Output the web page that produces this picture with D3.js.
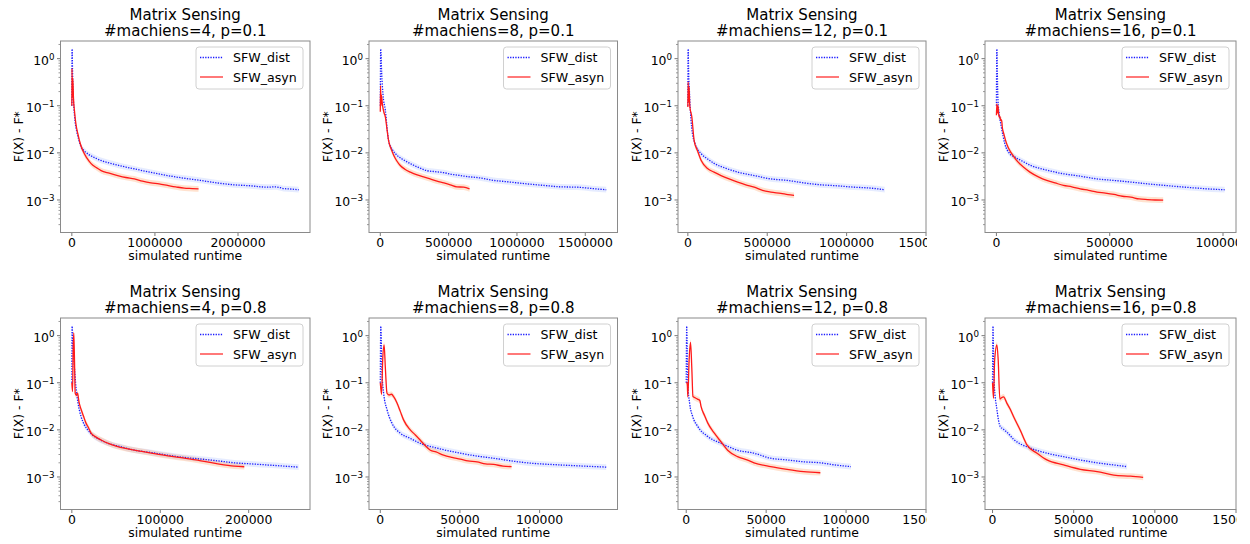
<!DOCTYPE html>
<html><head><meta charset="utf-8">
<script src="https://cdn.jsdelivr.net/npm/d3@7"></script>
<style>
body{margin:0;background:#fff}
svg{display:block}
text{font-family:"DejaVu Sans",sans-serif;fill:#000}
</style>
</head><body>
<svg id="c" width="1250" height="544"></svg>
<script>
// ---------------- data (x: simulated runtime, y: F(X) - F*) ----------------
const dist_4_01 = [[0,0.1],[3000,1.6],[8000,0.6],[15000,0.2],[25000,0.09],[40000,0.045],[60000,0.028],[80000,0.02],[110000,0.0135],[150000,0.011],[200000,0.0093],[275000,0.0079],[350000,0.0069],[450000,0.0061],[550000,0.0055],[650000,0.005],[750000,0.0046],[875000,0.0041],[1000000,0.0037],[1150000,0.0033],[1350000,0.0029],[1550000,0.0026],[1750000,0.0023],[1950000,0.0021],[2150000,0.002],[2350000,0.00187],[2450000,0.0019],[2550000,0.00175],[2650000,0.0017],[2730000,0.00165]];
const asyn_4_01 = [[0,0.1],[2000,0.62],[6000,0.15],[12000,0.38],[20000,0.14],[31000,0.08],[50000,0.04],[72000,0.0256],[100000,0.016],[132000,0.0112],[180000,0.0078],[232000,0.0059],[300000,0.0048],[352000,0.0042],[450000,0.0037],[552000,0.0033],[650000,0.003],[752000,0.0028],[850000,0.0025],[952000,0.0023],[1050000,0.0022],[1152000,0.00204],[1250000,0.0019],[1352000,0.00178],[1450000,0.00175],[1525000,0.00172]];

const dist_8_01 = [[0,0.1],[3000,1.6],[10000,0.5],[20000,0.17],[37000,0.08],[61000,0.018],[90000,0.0115],[122000,0.0089],[170000,0.0071],[220000,0.0059],[280000,0.0049],[340000,0.0042],[400000,0.004],[463000,0.0038],[525000,0.0035],[585000,0.0033],[650000,0.0031],[707000,0.003],[770000,0.0028],[829000,0.0026],[890000,0.0025],[950000,0.0024],[1070000,0.0022],[1195000,0.00204],[1320000,0.0019],[1440000,0.00187],[1550000,0.00175],[1653000,0.00165]];
const asyn_8_01 = [[0,0.075],[2000,0.27],[5000,0.1],[8000,0.17],[15000,0.11],[25000,0.075],[37000,0.058],[50000,0.03],[61000,0.018],[80000,0.012],[98000,0.0089],[120000,0.0068],[146000,0.0054],[180000,0.0045],[220000,0.0039],[270000,0.0034],[317000,0.0031],[365000,0.0028],[415000,0.0025],[465000,0.0023],[512000,0.0021],[560000,0.0019],[610000,0.00187],[653000,0.00172]];

const dist_12_01 = [[0,0.1],[2000,1.6],[5000,0.5],[10000,0.2],[15000,0.09],[24000,0.035],[45000,0.0157],[84000,0.0096],[125000,0.0074],[168000,0.0059],[240000,0.0047],[314000,0.0039],[418000,0.0033],[523000,0.0028],[627000,0.0026],[732000,0.0023],[837000,0.0021],[940000,0.002],[1046000,0.00187],[1140000,0.0018],[1240000,0.00165]];
const asyn_12_01 = [[0,0.094],[2000,0.32],[5000,0.12],[8000,0.25],[12000,0.1],[25000,0.058],[40000,0.018],[60000,0.0113],[84000,0.0069],[126000,0.0046],[165000,0.0039],[209000,0.0033],[260000,0.0028],[314000,0.0024],[365000,0.0021],[418000,0.00187],[470000,0.0016],[523000,0.00147],[586000,0.00138],[630000,0.0013],[669000,0.00125]];

const dist_16_01 = [[0,0.1],[2000,1.6],[4000,0.5],[7000,0.13],[12000,0.07],[22000,0.035],[37000,0.0157],[59000,0.0096],[80000,0.0082],[104000,0.0071],[148000,0.0055],[222000,0.0043],[296000,0.0036],[370000,0.0032],[444000,0.0028],[518000,0.0026],[593000,0.0024],[667000,0.0022],[741000,0.00204],[815000,0.0019],[889000,0.00178],[950000,0.0017],[1007000,0.00165]];
const asyn_16_01 = [[0,0.063],[2000,0.11],[4000,0.07],[7000,0.1],[11000,0.058],[15000,0.06],[19000,0.049],[23000,0.05],[26000,0.035],[33000,0.025],[41000,0.018],[52000,0.013],[63000,0.0104],[76000,0.0084],[89000,0.0069],[104000,0.0058],[119000,0.005],[148000,0.0039],[185000,0.0031],[222000,0.0026],[259000,0.0023],[296000,0.00204],[333000,0.0019],[370000,0.00172],[407000,0.0016],[444000,0.00147],[481000,0.0014],[519000,0.00131],[556000,0.0012],[593000,0.00115],[630000,0.00105],[667000,0.00102],[700000,0.001],[736000,0.00099]];

const dist_4_08 = [[0,0.1],[300,1.58],[1000,0.8],[2000,0.4],[3500,0.15],[5000,0.07],[7000,0.037],[10500,0.019],[14000,0.013],[18000,0.01],[25600,0.0072],[33000,0.006],[40700,0.0052],[55000,0.0044],[70800,0.0037],[90000,0.0033],[108500,0.0029],[127000,0.0026],[146000,0.0024],[165000,0.0022],[183700,0.002],[202000,0.0019],[221000,0.0018],[240000,0.0017],[256500,0.00162]];
const asyn_4_08 = [[0,0.1],[800,0.065],[1500,0.5],[2200,1.14],[3000,0.3],[3800,0.06],[5000,0.055],[6500,0.06],[8000,0.04],[10500,0.027],[13000,0.02],[16000,0.0139],[19000,0.011],[21800,0.0085],[27000,0.0071],[33100,0.0061],[42000,0.0051],[52000,0.0044],[70800,0.0037],[90000,0.0032],[108500,0.0028],[127000,0.0025],[146000,0.0022],[165000,0.0019],[183700,0.0017],[195000,0.00165]];

const dist_8_08 = [[0,0.1],[300,1.58],[700,0.6],[1000,0.19],[2100,0.06],[4200,0.027],[7300,0.0139],[12600,0.0085],[18800,0.0066],[25000,0.0052],[35600,0.0041],[50200,0.0032],[60000,0.0028],[71100,0.0025],[82000,0.0022],[92000,0.002],[113000,0.0018],[128000,0.0017],[141800,0.00162]];
const asyn_8_08 = [[0,0.1],[800,0.057],[1500,0.3],[2400,0.64],[3200,0.2],[4200,0.06],[5500,0.055],[7000,0.057],[8500,0.05],[10500,0.037],[12500,0.025],[14600,0.0163],[18800,0.01],[22000,0.0078],[25000,0.0061],[28000,0.0047],[31400,0.0037],[35000,0.0034],[39700,0.0029],[45000,0.0026],[50200,0.0024],[55000,0.0022],[60700,0.0021],[66000,0.0019],[71100,0.00185],[77000,0.0017],[82400,0.00166]];

const dist_12_08 = [[0,0.1],[300,1.58],[600,0.5],[1000,0.1],[2100,0.037],[4100,0.019],[7200,0.0118],[13500,0.0072],[21700,0.0052],[32100,0.0037],[42400,0.0032],[52800,0.0025],[63100,0.0023],[73500,0.0021],[83900,0.002],[93000,0.0018],[103000,0.00166]];
const asyn_12_08 = [[0,0.1],[600,0.1],[1000,0.05],[1800,0.3],[2700,0.72],[3500,0.2],[4200,0.051],[5500,0.048],[7000,0.045],[8500,0.042],[9300,0.031],[11500,0.02],[13500,0.0139],[17600,0.0085],[21700,0.0056],[25900,0.0037],[32100,0.0027],[38000,0.0023],[42400,0.002],[52800,0.00166],[63100,0.00145],[73500,0.0013],[83900,0.00123]];

const dist_16_08 = [[0,0.1],[300,1.58],[600,0.4],[1000,0.1],[2700,0.027],[4700,0.0118],[6500,0.0105],[8800,0.009],[13000,0.0063],[23300,0.0041],[33500,0.0032],[43800,0.0027],[54100,0.0023],[64400,0.002],[74700,0.0018],[82900,0.00166]];
const asyn_16_08 = [[0,0.1],[600,0.047],[1300,0.3],[2700,0.64],[3500,0.3],[4500,0.045],[5500,0.048],[6800,0.05],[8800,0.037],[11000,0.027],[13000,0.019],[17100,0.0098],[21200,0.0048],[27400,0.0032],[33500,0.0023],[43800,0.0018],[54100,0.00145],[64400,0.0013],[74700,0.0011],[85000,0.00104],[92800,0.00098]];

const titleLine1 = "Matrix Sensing";
const titleLine2 = ["#machiens=4, p=0.1","#machiens=8, p=0.1","#machiens=12, p=0.1","#machiens=16, p=0.1",
                    "#machiens=4, p=0.8","#machiens=8, p=0.8","#machiens=12, p=0.8","#machiens=16, p=0.8"];
const xTickValues = [[0,1000000,2000000],[0,500000,1000000,1500000],[0,500000,1000000,1500000],[0,500000,1000000],
                     [0,100000,200000],[0,50000,100000],[0,50000,100000,150000],[0,50000,100000,150000]];
const xRightLimit = [null,null,1500000,null,null,null,150000,150000];
const yTickValues = [1,0.1,0.01,0.001];
const yTickExponents = ["0","\u22121","\u22122","\u22123"];
const yLimits = [2.04e-4, 2.37];
const legendLabels = ["SFW_dist","SFW_asyn"];
const xLabel = "simulated runtime";
const yLabel = "F(X) - F*";

const distSeries = [dist_4_01,dist_8_01,dist_12_01,dist_16_01,dist_4_08,dist_8_08,dist_12_08,dist_16_08];
const asynSeries = [asyn_4_01,asyn_8_01,asyn_12_01,asyn_16_01,asyn_4_08,asyn_8_08,asyn_12_08,asyn_16_08];

// ---------------- layout ----------------
const colLeft = [60.5, 369, 678, 985];
const colRight = [310, 617.5, 926, 1236];
const rowTop = [41, 318];
const boxH = 191.5;
const FS = 12.4;

const svg = d3.select("#c");
const defs = svg.append("defs");

for (let i = 0; i < 8; i++) {
  const row = Math.floor(i / 4), col = i % 4;
  const L = colLeft[col], R = colRight[col], T = rowTop[row], B = T + boxH;
  const dist = distSeries[i], asyn = asynSeries[i];
  const maxX = d3.max(dist.concat(asyn), d => d[0]);
  const x = d3.scaleLinear().domain([-0.05 * maxX, xRightLimit[i] ?? 1.05 * maxX]).range([L, R]);
  const y = d3.scaleLog().domain(yLimits).range([B, T]);

  const g = svg.append("g");

  defs.append("clipPath").attr("id", "box" + i)
    .append("rect").attr("x", L).attr("y", T).attr("width", R - L).attr("height", B - T);
  defs.append("clipPath").attr("id", "pan" + i)
    .append("rect").attr("x", L - 70).attr("y", T - 45).attr("width", R - L + 71).attr("height", B - T + 80);

  const pg = g.append("g").attr("clip-path", `url(#pan${i})`);

  // titles
  pg.append("text").attr("x", (L + R) / 2).attr("y", T - 21).attr("text-anchor", "middle")
    .style("font-size", "15px").text(titleLine1);
  pg.append("text").attr("x", (L + R) / 2).attr("y", T - 5).attr("text-anchor", "middle")
    .style("font-size", "15px").text(titleLine2[i]);

  // bands and lines
  const plot = g.append("g").attr("clip-path", `url(#box${i})`);
  const area = d3.area().x(d => x(d[0])).y0(d => y(d[1] * 0.87)).y1(d => y(d[1] * 1.15)).curve(d3.curveMonotoneX);
  const line = d3.line().x(d => x(d[0])).y(d => y(d[1])).curve(d3.curveMonotoneX);
  plot.append("path").datum(dist).attr("d", area).attr("fill", "#8fa8ff").attr("opacity", 0.22);
  plot.append("path").datum(asyn).attr("d", area).attr("fill", "#ffa060").attr("opacity", 0.3);
  plot.append("path").datum(dist).attr("d", line).attr("fill", "none")
    .attr("stroke", "#1a1aff").attr("stroke-width", 1.3).attr("stroke-dasharray", "1.3,1.3");
  plot.append("path").datum(asyn).attr("d", line).attr("fill", "none")
    .attr("stroke", "#ff1a1a").attr("stroke-width", 1.3);

  // y ticks
  const [lo, hi] = yLimits;
  for (let k = -4; k <= 0; k++) {
    for (let m = 2; m <= 9; m++) {
      const v = m * Math.pow(10, k);
      if (v < lo || v > hi) continue;
      g.append("line").attr("x1", L - 2).attr("x2", L).attr("y1", y(v)).attr("y2", y(v))
        .attr("stroke", "#555").attr("stroke-width", 0.6);
    }
  }
  yTickValues.forEach((v, j) => {
    const yy = y(v);
    g.append("line").attr("x1", L - 3.5).attr("x2", L).attr("y1", yy).attr("y2", yy)
      .attr("stroke", "#555").attr("stroke-width", 0.8);
    const t = pg.append("text").attr("x", L - 6).attr("y", yy + 6).attr("text-anchor", "end")
      .style("font-size", FS + "px");
    t.append("tspan").text("10");
    t.append("tspan").attr("dy", -5).style("font-size", "8.7px").text(yTickExponents[j]);
  });

  // x ticks
  xTickValues[i].forEach(v => {
    const xx = x(v);
    g.append("line").attr("x1", xx).attr("x2", xx).attr("y1", B).attr("y2", B + 3.5)
      .attr("stroke", "#555").attr("stroke-width", 0.8);
    pg.append("text").attr("x", xx).attr("y", B + 14).attr("text-anchor", "middle")
      .style("font-size", FS + "px").text(String(v));
  });

  // axis labels
  pg.append("text").attr("x", (L + R) / 2).attr("y", B + 27.5).attr("text-anchor", "middle")
    .style("font-size", FS + "px").text(xLabel);
  pg.append("text").attr("transform", `translate(${L - 42},${(T + B) / 2}) rotate(-90)`)
    .attr("text-anchor", "middle").attr("dominant-baseline", "central")
    .style("font-size", FS + "px").text(yLabel);

  // frame
  g.append("rect").attr("x", L).attr("y", T).attr("width", R - L).attr("height", B - T)
    .attr("fill", "none").attr("stroke", "#8a8a8a").attr("stroke-width", 1);

  // legend
  const lw = 107, lh = 42;
  const lx = R - 7 - lw, ly = T + 6;
  const lg = g.append("g");
  lg.append("rect").attr("x", lx).attr("y", ly).attr("width", lw).attr("height", lh)
    .attr("rx", 3).attr("fill", "#fff").attr("fill-opacity", 0.85).attr("stroke", "#d0d0d0").attr("stroke-width", 1);
  legendLabels.forEach((lab, j) => {
    const cy = ly + 10.5 + j * 19.5;
    const ln = lg.append("line").attr("x1", lx + 4).attr("x2", lx + 27).attr("y1", cy).attr("y2", cy)
      .attr("stroke-width", 1.3);
    if (j === 0) ln.attr("stroke", "#1a1aff").attr("stroke-dasharray", "1.3,1.3");
    else ln.attr("stroke", "#ff3030");
    lg.append("text").attr("x", lx + 37).attr("y", cy + 4.5).style("font-size", "12.6px").text(lab);
  });
}
</script>
</body></html>
